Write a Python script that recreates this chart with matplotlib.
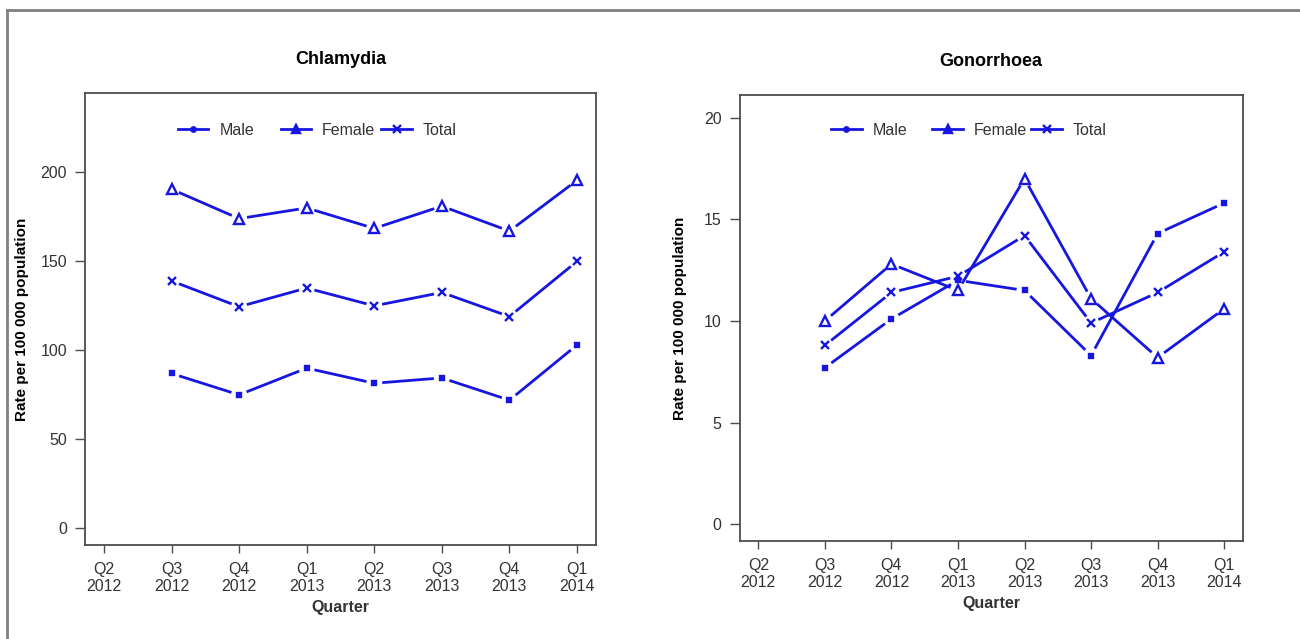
import numpy as np
import matplotlib.pyplot as plt
from matplotlib.lines import Line2D
from matplotlib.legend import Legend

plt.rcParams['font.family'] = ['Liberation Sans', 'DejaVu Sans']

QUARTERS = ["Q2\n2012", "Q3\n2012", "Q4\n2012", "Q1\n2013",
            "Q2\n2013", "Q3\n2013", "Q4\n2013", "Q1\n2014"]
# data starts at Q3 2012 (second tick)
DATA_X = [2, 3, 4, 5, 6, 7, 8]

chl_male = [87, 75, 90, 81.5, 84.5, 72, 103]
chl_female = [190.5, 174, 180, 168.5, 181, 167, 195.5]
chl_total = [139, 124.5, 135, 125, 132.5, 119, 150]

gon_male = [7.7, 10.1, 12.0, 11.5, 8.3, 14.3, 15.8]
gon_female = [10.0, 12.8, 11.5, 17.0, 11.1, 8.2, 10.6]
gon_total = [8.8, 11.4, 12.2, 14.2, 9.9, 11.4, 13.4]

BLUE = "#1616e0"
TXT = "#333333"
AXC = "#4d4d4d"

SERIES_STYLE = {
    "Male": dict(marker="s", ms=3.3, mfc=BLUE),
    "Female": dict(marker="^", ms=6.5, mfc="none"),
    "Total": dict(marker="x", ms=6, mfc=BLUE),
}
LEGEND_MARKERS = {"Male": ("o", 3.2), "Female": ("^", 5.5), "Total": ("x", 5.5)}
LEGEND_X = {"Male": 0.182, "Female": 0.383, "Total": 0.58}


def gapped_line(ax, xs, ys, gap=8):
    # R type="b": segments stop short of the points
    tr = ax.transData
    inv = tr.inverted()
    pts = tr.transform(np.column_stack([xs, ys]))
    for p0, p1 in zip(pts[:-1], pts[1:]):
        d = p1 - p0
        L = np.hypot(*d)
        if L <= 2 * gap:
            continue
        u = d / L
        a = inv.transform(p0 + u * gap)
        b = inv.transform(p1 - u * gap)
        ax.plot([a[0], b[0]], [a[1], b[1]], color=BLUE, lw=2, solid_capstyle="butt")


def panel(ax, title, ylim, yticks, series, ylab_x, leg_y):
    ax.set_xlim(0.72, 8.28)
    ax.set_ylim(*ylim)
    ax.set_xticks(range(1, 9))
    ax.set_xticklabels(QUARTERS, fontsize=11.5, color=TXT, linespacing=1.2)
    ax.set_yticks(yticks)
    ax.set_yticklabels([str(t) for t in yticks], fontsize=11.5, color=TXT)
    ax.tick_params(axis="x", length=6, width=1, color=AXC, pad=6)
    ax.tick_params(axis="y", length=7, width=1, color=AXC, pad=6)
    for s in ax.spines.values():
        s.set_color(AXC)
        s.set_linewidth(1.3)
    ax.set_title(title, fontsize=13, fontweight="bold", pad=21)
    ax.set_xlabel("Quarter", fontsize=11.5, fontweight="bold", color=TXT, labelpad=4)
    ax.set_ylabel("Rate per 100 000 population", fontsize=11, fontweight="bold")
    ax.yaxis.set_label_coords(ylab_x, 0.5)

    for name, vals in series:
        st = SERIES_STYLE[name]
        gapped_line(ax, DATA_X, vals)
        ax.plot(DATA_X, vals, ls="none", marker=st["marker"], ms=st["ms"],
                mec=BLUE, mfc=st["mfc"], mew=1.7, color=BLUE)

    # R-style horizontal legend, equal-width columns
    for name, _ in series:
        mk, ms = LEGEND_MARKERS[name]
        h = Line2D([], [], color=BLUE, lw=2, marker=mk, ms=ms, mew=1.7)
        leg = Legend(ax, [h], [name], frameon=False, loc="center left",
                     bbox_to_anchor=(LEGEND_X[name], leg_y), borderpad=0,
                     borderaxespad=0, fontsize=11.5, labelcolor=TXT,
                     handlelength=1.9, handletextpad=0.7)
        ax.add_artist(leg)


fig = plt.figure(figsize=(13, 6.39), dpi=100)

ax1 = fig.add_axes([0.0654, 0.147, 0.393, 0.707])
panel(ax1, "Chlamydia", (-9.4, 244.4), [0, 50, 100, 150, 200],
      [("Male", chl_male), ("Female", chl_female), ("Total", chl_total)],
      ylab_x=-0.11, leg_y=0.918)

ax2 = fig.add_axes([0.569, 0.153, 0.387, 0.698])
panel(ax2, "Gonorrhoea", (-0.83, 21.1), [0, 5, 10, 15, 20],
      [("Male", gon_male), ("Female", gon_female), ("Total", gon_total)],
      ylab_x=-0.105, leg_y=0.921)

# outer frame (top and left only visible)
fig.add_artist(Line2D([0.0054, 1.0], [0.985, 0.985], color="#808080", lw=2))
fig.add_artist(Line2D([0.0054, 0.0054], [0.0, 0.985], color="#808080", lw=2))

fig.savefig("out.png", dpi=100)
